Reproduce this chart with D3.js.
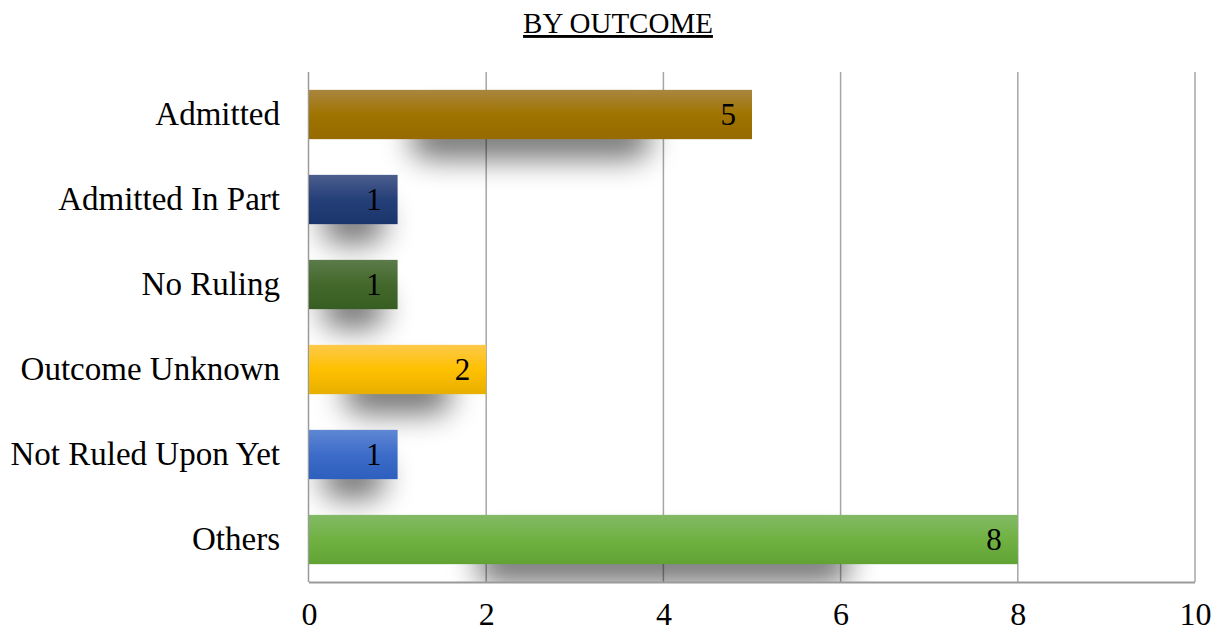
<!DOCTYPE html>
<html>
<head>
<meta charset="utf-8">
<script src="https://cdn.jsdelivr.net/npm/d3@7"></script>
<style>
	body { margin: 0; background: #fff; }
	#chart { width: 1221px; height: 639px; }
	text { font-family: "Liberation Serif", "Times New Roman", serif; fill: #000; }
</style>
</head>
<body>
<div id="chart"></div>
<script>
//data
const categories = ["Admitted", "Admitted In Part", "No Ruling", "Outcome Unknown", "Not Ruled Upon Yet", "Others"];
const values = [5, 1, 1, 2, 1, 8];
const xTicks = [0, 2, 4, 6, 8, 10];
// gradient stops per bar: top, middle, bottom
const barTop = ["#a98640", "#4b5e8e", "#5b7b49", "#fdc94a", "#5f87d4", "#83ba66"];
const barMid = ["#a07400", "#253f78", "#44682c", "#ffc000", "#3d6cc9", "#70b142"];
const barBot = ["#956a00", "#1a346c", "#375e22", "#e8af00", "#2d5fbe", "#60a334"];

function chart(){

	//sizing
	let margin = {top: 72, right: 26, bottom: 57, left: 309};
	let width = 1221;
	let height = 639;

	let svg = d3.select("#chart")
		.append("svg")
		.attr("width", width)
		.attr("height", height);

	const defs = svg.append("defs");

	const blur = defs.append("filter")
		.attr("id", "shadowBlur")
		.attr("x", "-100%").attr("y", "-100%")
		.attr("width", "300%").attr("height", "300%");
	blur.append("feGaussianBlur").attr("stdDeviation", 15);

	defs.append("clipPath").attr("id", "plotClip")
		.append("rect")
		.attr("x", margin.left)
		.attr("y", margin.top)
		.attr("width", width - margin.left - margin.right)
		.attr("height", height - margin.top - margin.bottom);

	categories.forEach((c, i) => {
		const g = defs.append("linearGradient")
			.attr("id", "grad" + i)
			.attr("x1", 0).attr("y1", 0).attr("x2", 0).attr("y2", 1);
		g.append("stop").attr("offset", "0%").attr("stop-color", barTop[i]);
		g.append("stop").attr("offset", "50%").attr("stop-color", barMid[i]);
		g.append("stop").attr("offset", "100%").attr("stop-color", barBot[i]);
	});

	//scales
	const xScale = d3.scaleLinear()
		.domain([0, 10])
		.range([margin.left, width - margin.right]);

	const yScale = d3.scaleBand()
		.domain(categories)
		.range([margin.top, height - margin.bottom])
		.paddingInner(0.42)
		.paddingOuter(0.21);

	//title
	svg.append("text")
		.attr("x", 618)
		.attr("y", 33)
		.attr("text-anchor", "middle")
		.style("font-size", "29px")
		.style("text-decoration", "underline")
		.text("BY OUTCOME");

	//grid lines
	svg.append("g")
		.attr("class", "grid")
		.selectAll("line")
		.data(xTicks.slice(1))
		.enter().append("line")
		.attr("x1", d => xScale(d)).attr("x2", d => xScale(d))
		.attr("y1", margin.top).attr("y2", height - margin.bottom)
		.attr("stroke", "#a6a6a6")
		.attr("stroke-width", 1.5);

	//shadows
	const shadowW = d => (xScale(d) - xScale(0)) * 0.5 + 20;
	svg.append("g")
		.attr("clip-path", "url(#plotClip)")
		.selectAll("rect")
		.data(values)
		.enter().append("rect")
		.attr("x", d => (xScale(0) + xScale(d)) / 2 - shadowW(d) / 2)
		.attr("y", (d, i) => yScale(categories[i]) + yScale.bandwidth() * 0.55)
		.attr("width", d => shadowW(d))
		.attr("height", yScale.bandwidth() * 0.85)
		.attr("rx", 20)
		.attr("fill", "#000")
		.attr("opacity", 0.55)
		.attr("filter", "url(#shadowBlur)");

	//axes lines
	svg.append("line")
		.attr("x1", margin.left).attr("x2", width - margin.right)
		.attr("y1", height - margin.bottom + 0.5).attr("y2", height - margin.bottom + 0.5)
		.attr("stroke", "#9a9a9a").attr("stroke-width", 2);
	svg.append("line")
		.attr("x1", margin.left - 0.5).attr("x2", margin.left - 0.5)
		.attr("y1", margin.top).attr("y2", height - margin.bottom)
		.attr("stroke", "#9a9a9a").attr("stroke-width", 1.5);

	//bars
	svg.append("g")
		.selectAll("rect")
		.data(values)
		.enter().append("rect")
		.attr("x", xScale(0))
		.attr("y", (d, i) => yScale(categories[i]))
		.attr("width", d => xScale(d) - xScale(0))
		.attr("height", yScale.bandwidth())
		.attr("fill", (d, i) => `url(#grad${i})`);

	//value labels
	svg.append("g")
		.selectAll("text")
		.data(values)
		.enter().append("text")
		.attr("x", d => xScale(d) - 16)
		.attr("y", (d, i) => yScale(categories[i]) + yScale.bandwidth() / 2)
		.attr("dy", "0.35em")
		.attr("text-anchor", "end")
		.style("font-size", "31px")
		.text(d => d);

	//y axis
	const yAxis = d3.axisLeft(yScale).tickSize(0).tickPadding(29);
	svg.append("g")
		.attr("class", "axis y_axis")
		.attr("transform", `translate(${margin.left},0)`)
		.call(yAxis)
		.call(g => g.select(".domain").remove())
		.selectAll("text")
		.style("font-size", "33px")
		.style("font-family", "'Liberation Serif', serif")
		.attr("fill", "#000");

	//x axis
	const xAxis = d3.axisBottom(xScale).tickValues(xTicks).tickSize(0).tickPadding(20);
	svg.append("g")
		.attr("class", "axis x_axis")
		.attr("transform", `translate(0,${height - margin.bottom})`)
		.call(xAxis)
		.call(g => g.select(".domain").remove())
		.selectAll("text")
		.style("font-size", "32px")
		.style("font-family", "'Liberation Serif', serif")
		.attr("fill", "#000");

}

chart();
</script>
</body>
</html>
